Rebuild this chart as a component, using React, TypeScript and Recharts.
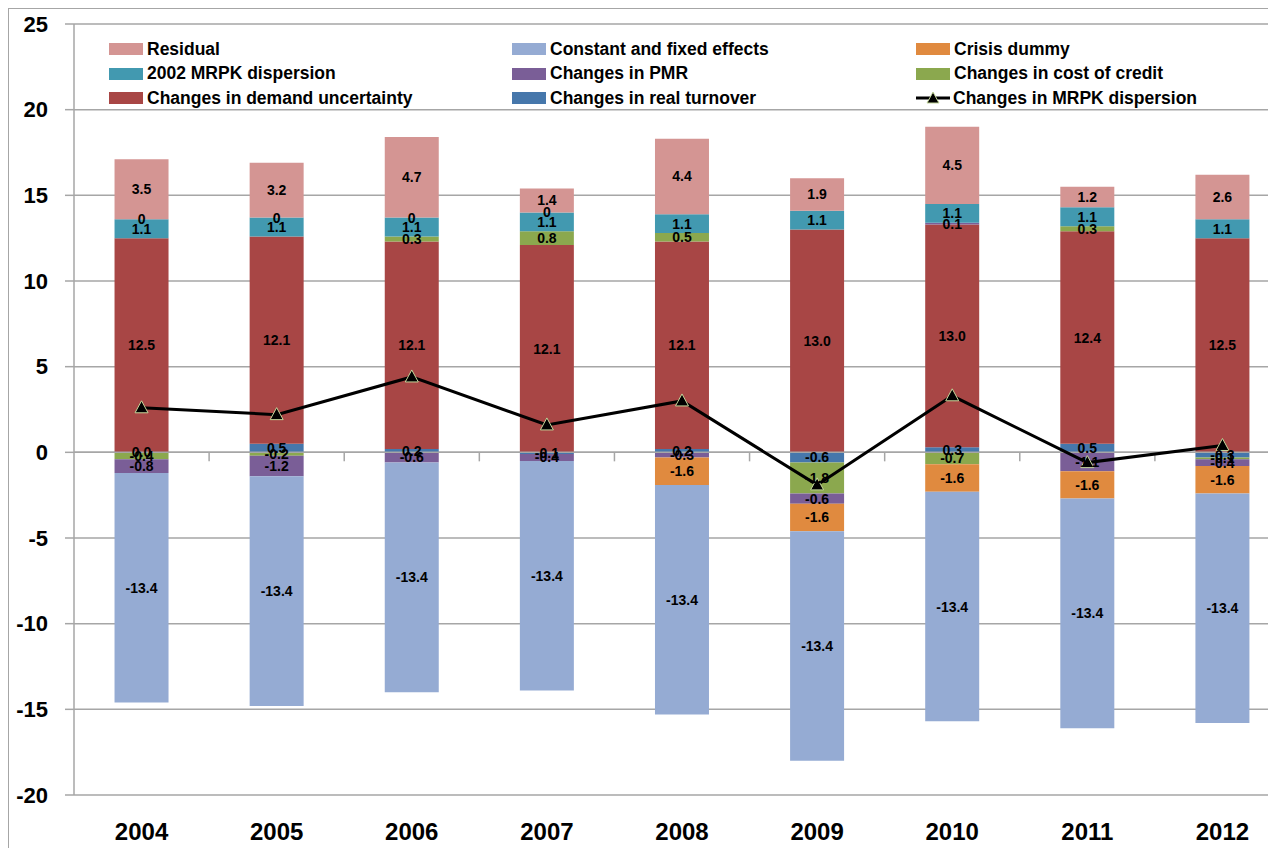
import React from "react"
import { ComposedChart, Bar, Line, XAxis, YAxis, CartesianGrid, ReferenceLine, LabelList } from "recharts"

const years = ["2004", "2005", "2006", "2007", "2008", "2009", "2010", "2011", "2012"]

// stacking order (closest to zero first)
const realTurnover = [0.0, 0.5, 0.2, -0.1, 0.2, -0.6, 0.3, 0.5, -0.3]
const demandUncertainty = [12.5, 12.1, 12.1, 12.1, 12.1, 13.0, 13.0, 12.4, 12.5]
const costOfCredit = [-0.4, -0.2, 0.3, 0.8, 0.5, -1.8, -0.7, 0.3, -0.1]
const pmr = [-0.8, -1.2, -0.6, -0.4, -0.3, -0.6, 0.1, -1.1, -0.4]
const mrpk2002 = [1.1, 1.1, 1.1, 1.1, 1.1, 1.1, 1.1, 1.1, 1.1]
const crisisDummy = [0, 0, 0, 0, -1.6, -1.6, -1.6, -1.6, -1.6]
const constantFixed = [-13.4, -13.4, -13.4, -13.4, -13.4, -13.4, -13.4, -13.4, -13.4]
const residual = [3.5, 3.2, 4.7, 1.4, 4.4, 1.9, 4.5, 1.2, 2.6]
const mrpkChange = [2.6, 2.2, 4.4, 1.6, 3.0, -1.9, 3.3, -0.6, 0.4]

const yTicks = [-20, -15, -10, -5, 0, 5, 10, 15, 20, 25]

const data = years.map((year, i) => ({
  year,
  turnover: realTurnover[i],
  demand: demandUncertainty[i],
  credit: costOfCredit[i],
  pmr: pmr[i],
  mrpk2002: mrpk2002[i],
  crisis: crisisDummy[i],
  constant: constantFixed[i],
  residual: residual[i],
  mrpk: mrpkChange[i],
}))

const series = [
  { key: "turnover", name: "Changes in real turnover", color: "#4677ab", values: realTurnover },
  { key: "demand", name: "Changes in demand uncertainty", color: "#a84645", values: demandUncertainty },
  { key: "credit", name: "Changes in cost of credit", color: "#8ba84e", values: costOfCredit },
  { key: "pmr", name: "Changes in PMR", color: "#7a5e97", values: pmr },
  { key: "mrpk2002", name: "2002 MRPK dispersion", color: "#4299b0", values: mrpk2002 },
  { key: "crisis", name: "Crisis dummy", color: "#e08a3f", values: crisisDummy },
  { key: "constant", name: "Constant and fixed effects", color: "#95abd3", values: constantFixed },
  { key: "residual", name: "Residual", color: "#d49593", values: residual },
]

const FONT = "'Liberation Sans', Arial, sans-serif"

const legendOrder = ["residual", "constant", "crisis", "mrpk2002", "pmr", "credit", "demand", "turnover", "line"]

const makeLabel = (key: string) => (p: any) => {
  const v = Number(p.value)
  const text = key === "crisis" && v === 0 ? "0" : v.toFixed(1)
  return (
    <text
      x={p.x + p.width / 2}
      y={p.y + p.height / 2}
      textAnchor="middle"
      dominantBaseline="central"
      fontFamily={FONT}
      fontWeight="bold"
      fontSize={14}
      fill="#000"
    >
      {text}
    </text>
  )
}

// keep zero-valued segments in the DOM so their labels still show
const tinyForZero = (values: number[]) => (_v: any, i: number) => (values[i] === 0 ? 0.01 : 0)

const ZeroAxis = (p: any) => {
  const { x1, x2, y1 } = p
  const step = (x2 - x1) / years.length
  return (
    <g>
      <line x1={x1} x2={x2} y1={y1} y2={y1} stroke="#a6a6a6" strokeWidth={1.5} />
      {years.map((_, i) => (
        <line key={i} x1={x1 + step * (i + 1)} x2={x1 + step * (i + 1)} y1={y1} y2={y1 + 9} stroke="#a6a6a6" strokeWidth={1.5} />
      ))}
    </g>
  )
}

const Triangle = (p: any) => {
  const { cx, cy } = p
  if (cx == null || cy == null) return null
  return <path d={`M${cx},${cy - 7} L${cx + 6.5},${cy + 5} L${cx - 6.5},${cy + 5} Z`} fill="#000" stroke="#c4d79b" strokeWidth={1} />
}

function LegendBox() {
  return (
    <div
      style={{
        position: "absolute",
        left: 100,
        top: 28,
        width: 1210,
        display: "grid",
        gridTemplateColumns: "403px 404px 403px",
        gridAutoRows: "24.5px",
        fontFamily: FONT,
        fontWeight: "bold",
        fontSize: 17.5,
        color: "#000",
      }}
    >
      {legendOrder.map((k) => {
        if (k === "line") {
          return (
            <div key={k} style={{ display: "flex", alignItems: "center" }}>
              <svg width={34} height={14} style={{ marginRight: 3 }}>
                <line x1={0} x2={34} y1={7} y2={7} stroke="#000" strokeWidth={3} />
                <path d="M17,1 L23,12 L11,12 Z" fill="#000" stroke="#c4d79b" strokeWidth={1} />
              </svg>
              Changes in MRPK dispersion
            </div>
          )
        }
        const s = series.find((x) => x.key === k)!
        return (
          <div key={k} style={{ display: "flex", alignItems: "center" }}>
            <span style={{ display: "inline-block", width: 34, height: 12, background: s.color, marginRight: 4 }} />
            {s.name}
          </div>
        )
      })}
    </div>
  )
}

export default function App() {
  return (
    <div
      style={{
        position: "relative",
        width: 1267,
        height: 839,
        overflow: "hidden",
        borderLeft: "1px solid #a6a6a6",
        borderTop: "1px solid #a6a6a6",
        background: "#fff",
      }}
    >
      <style>{`html,body{overflow:hidden}`}</style>
      <ComposedChart
        width={1281}
        height={839}
        data={data}
        stackOffset="sign"
        barCategoryGap="30%"
        margin={{ top: 15, right: 0, bottom: 0, left: 0 }}
      >
        <CartesianGrid vertical={false} stroke="#a6a6a6" strokeWidth={1.5} />
        <XAxis
          dataKey="year"
          axisLine={false}
          tickLine={false}
          tickSize={0}
          tickMargin={28}
          height={53}
          interval={0}
          tick={{ fontFamily: FONT, fontWeight: "bold", fontSize: 24, fill: "#000" }}
        />
        <YAxis
          domain={[-20, 25]}
          ticks={yTicks}
          width={65}
          tickSize={9}
          tickMargin={17}
          axisLine={{ stroke: "#a6a6a6", strokeWidth: 1.5 }}
          tickLine={{ stroke: "#a6a6a6", strokeWidth: 1.5 }}
          tick={{ fontFamily: FONT, fontWeight: "bold", fontSize: 22, fill: "#000" }}
          allowDataOverflow
        />
        <ReferenceLine y={0} shape={ZeroAxis} />
        {series.map((s) => (
          <Bar
            key={s.key}
            dataKey={s.key}
            name={s.name}
            stackId="a"
            fill={s.color}
            minPointSize={tinyForZero(s.values)}
            isAnimationActive={false}
          >
            <LabelList dataKey={s.key} content={makeLabel(s.key)} />
          </Bar>
        ))}
        <Line
          dataKey="mrpk"
          name="Changes in MRPK dispersion"
          stroke="#000"
          strokeWidth={3}
          dot={<Triangle />}
          activeDot={false}
          isAnimationActive={false}
        />
      </ComposedChart>
      <LegendBox />
    </div>
  )
}
